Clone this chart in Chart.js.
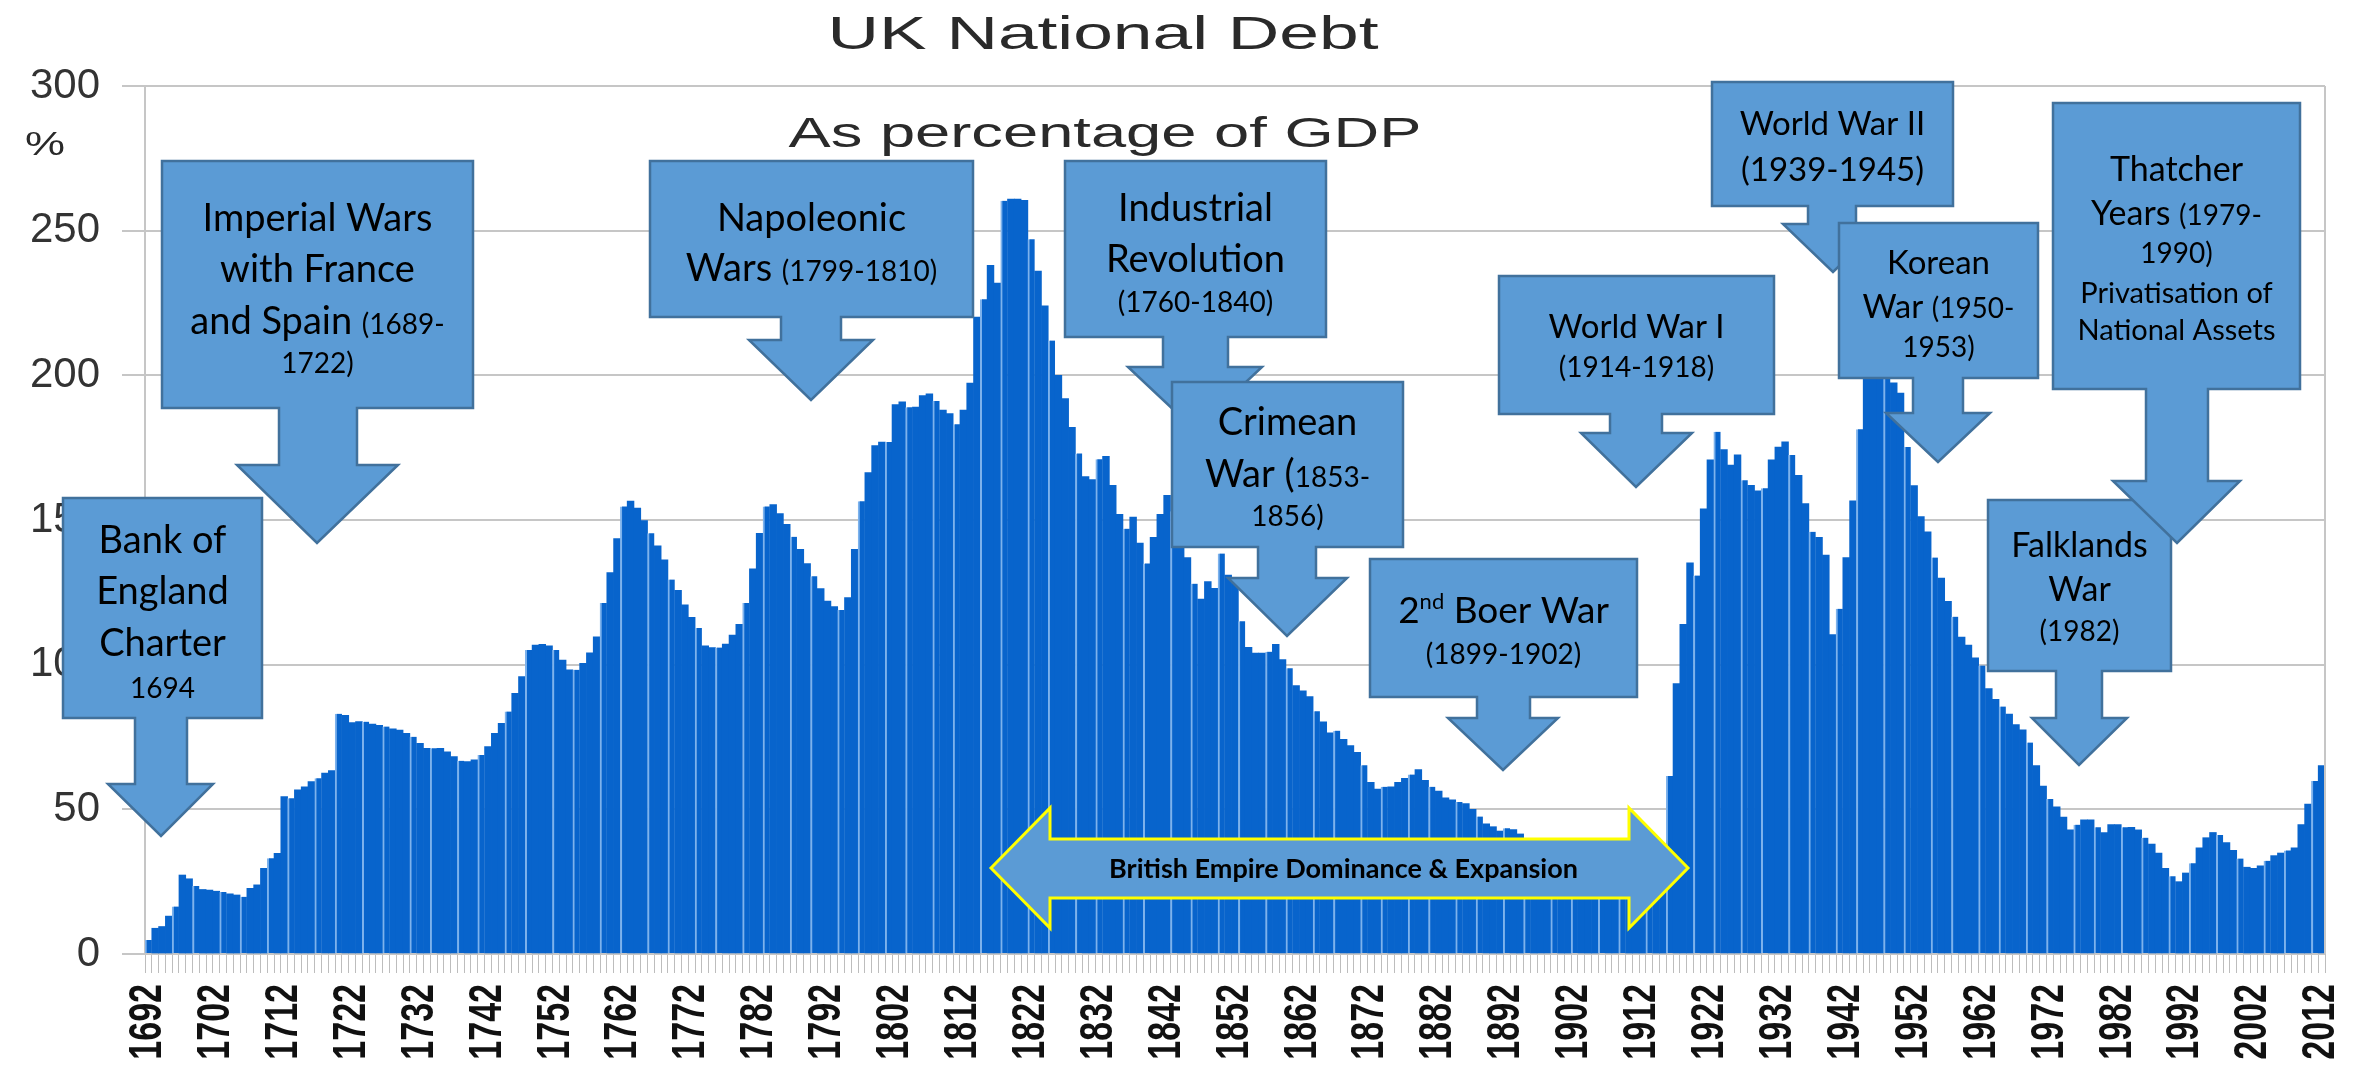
<!DOCTYPE html>
<html>
<head>
<meta charset="utf-8">
<title>UK National Debt</title>
<script src="https://cdn.jsdelivr.net/npm/chart.js@4.4.1/dist/chart.umd.min.js"></script>
<style>
  html, body { margin: 0; padding: 0; background: #fff; }
  #wrap { width: 2366px; height: 1069px; }
</style>
</head>
<body>
<div id="wrap"><canvas id="debtChart" width="2366" height="1069"></canvas></div>
<script>
// one bar per year
const firstYear = 1692;
const lastYear = 2012;
const years = [];
for (let y = firstYear; y <= lastYear; y++) years.push(String(y));

// years that get a label under the axis
const labelYears = [1692, 1702, 1712, 1722, 1732, 1742, 1752, 1762, 1772, 1782, 1792,
  1802, 1812, 1822, 1832, 1842, 1852, 1862, 1872, 1882, 1892, 1902, 1912, 1922,
  1932, 1942, 1952, 1962, 1972, 1982, 1992, 2002, 2012];

const yTicks = [0, 50, 100, 150, 200, 250, 300];

// debt as % of GDP (bars hidden behind the boxes are estimates)
const debt1692to1749 = [
  4.8, 8.9, 9.5, 13.1, 16.4, 27.3, 26, 23.5, 22.3, 22.1,
  21.7, 21.4, 20.8, 20.4, 19.8, 22.7, 23.9, 29.6, 33.1, 34.8,
  54.4, 53.8, 56.7, 57.8, 59.6, 60.7, 62.5, 63.4, 83, 82.5,
  80, 80.3, 80.3, 79.5, 79, 78.6, 77.8, 77.4, 76.3, 75.1,
  72.8, 71.1, 71.1, 71.1, 69.9, 68.2, 66.8, 66.5, 67.1, 68.8,
  71.7, 76.3, 79.7, 83.8, 90.1, 95.9, 105.1, 106.8];
const debt1750to1799 = [
  107, 106.5, 105.1, 101.6, 98.2, 98.2, 100.5, 104.1, 109.6, 121.3,
  131.8, 143.6, 154.7, 156.5, 154.1, 149.8, 145.4, 141.1, 136.2, 129.4,
  125.7, 120.7, 116.4, 112.7, 106.5, 105.9, 105.9, 107.1, 110.2, 113.9,
  121.3, 133.1, 145.4, 154.7, 155.3, 152.2, 148.5, 144.2, 139.9, 134.9,
  130.6, 126.3, 122, 120.1, 118.9, 123.2, 139.9, 156.5, 166.4, 175.7];
const debt1800to1849 = [
  176.9, 177, 189.9, 190.8, 189, 189, 193, 193.6, 191.1, 188,
  186.8, 183.1, 188, 197.3, 220.1, 226.3, 238, 231.9, 260.3, 260.9,
  260.9, 260.5, 247, 236, 224, 212, 200, 192, 182, 173,
  165, 164, 171, 172, 162, 152, 147, 151, 142, 135,
  144, 152, 158.5, 153, 145, 137, 128, 122.7, 128.7, 126.4];
const debt1850to1899 = [
  138.4, 131, 130, 115, 106, 104, 104, 104.5, 107, 101.8,
  98.8, 92.8, 91, 89, 83.9, 80.2, 76.4, 77.2, 74.2, 72,
  69.7, 65.2, 59.3, 57, 57.8, 57.8, 59.3, 60.7, 62, 63.7,
  60, 57.8, 56.3, 54, 53.3, 52.5, 52, 50, 47.5, 45,
  44, 42.5, 43.5, 43, 41.5, 39, 37.5, 36, 34.5, 33];
const debt1900to1949 = [
  31, 33, 36, 36, 35, 34, 33, 31, 30, 30,
  29, 28, 27, 26, 27, 35, 61.5, 93.5, 113.9, 135.2,
  130.8, 153.9, 170.8, 180.5, 174.3, 169, 172.5, 163.7, 162, 160.1,
  161, 170.8, 175.2, 177, 172.5, 165.4, 155.7, 145.9, 144, 137.9,
  110.4, 119.3, 137, 156.6, 181.4, 205, 235, 245, 215, 197.4];
const debt1950to2012 = [
  193.9, 175.2, 161.9, 151.2, 145.9, 137, 129.9, 121.9, 116.6, 109.5,
  106.8, 102.4, 99.7, 91.7, 88, 85.5, 82.9, 79.3, 77.5, 73.1,
  65.1, 58, 53.6, 50.9, 47.3, 42.9, 44.7, 46.4, 46.4, 43.8,
  42, 44.7, 44.7, 43.8, 43.8, 42.9, 40.2, 38, 34.9, 29.6,
  26.9, 25, 28, 31.4, 36.7, 40.2, 42, 41.1, 38.5, 35.8,
  33, 30, 29.6, 30.5, 32.2, 34, 34.9, 35.8, 36.7, 44.7,
  51.8, 59.8, 65.1];

const debtPct = [].concat(debt1692to1749, debt1750to1799, debt1800to1849,
  debt1850to1899, debt1900to1949, debt1950to2012);

// arrow callouts drawn over the bars (page pixels)
const callouts = [
  { box: [63, 498, 262, 718], shaft: [135, 187], headTop: 784, head: [108, 213], tip: [161, 836],
    lines: [[539, [['Bank of', 38]]], [590, [['England', 38]]], [642, [['Charter', 38]]], [688, [['1694', 28]]]] },
  { box: [162, 161, 473, 408], shaft: [279, 357], headTop: 465, head: [237, 398], tip: [317, 543],
    lines: [[217, [['Imperial Wars', 38]]], [268, [['with France', 38]]],
            [320, [['and Spain ', 38], ['(1689-', 28]]], [363, [['1722)', 28]]]] },
  { box: [650, 161, 973, 317], shaft: [781, 841], headTop: 340, head: [749, 873], tip: [811, 400],
    lines: [[217, [['Napoleonic', 38]]], [267, [['Wars ', 38], ['(1799-1810)', 28]]]] },
  { box: [1065, 161, 1326, 337], shaft: [1163, 1228], headTop: 367, head: [1128, 1262], tip: [1195, 430],
    lines: [[207, [['Industrial', 38]]], [258, [['Revolution', 38]]], [302, [['(1760-1840)', 28]]]] },
  { box: [1172, 382, 1403, 547], shaft: [1258, 1316], headTop: 578, head: [1228, 1347], tip: [1287, 636],
    lines: [[421, [['Crimean', 38]]], [473, [['War (', 38], ['1853-', 28]]], [516, [['1856)', 28]]]] },
  { box: [1370, 559, 1637, 697], shaft: [1477, 1530], headTop: 718, head: [1448, 1558], tip: [1503, 770],
    lines: [[610, [['2', 37], ['nd', 22, 14], [' Boer War', 37]]], [654, [['(1899-1902)', 28]]]] },
  { box: [1499, 276, 1774, 414], shaft: [1610, 1662], headTop: 433, head: [1581, 1692], tip: [1636, 487],
    lines: [[326, [['World War I', 33]]], [367, [['(1914-1918)', 28]]]] },
  { box: [1712, 82, 1953, 206], shaft: [1808, 1856], headTop: 224, head: [1783, 1883], tip: [1833, 272],
    lines: [[123, [['World War II', 33]]], [169, [['(1939-1945)', 33]]]] },
  { box: [1839, 223, 2038, 378], shaft: [1913, 1963], headTop: 413, head: [1886, 1990], tip: [1938, 462],
    lines: [[262, [['Korean', 33]]], [306, [['War ', 33], ['(1950-', 28]]], [347, [['1953)', 28]]]] },
  { box: [1988, 500, 2171, 671], shaft: [2056, 2102], headTop: 718, head: [2032, 2127], tip: [2079, 765],
    lines: [[545, [['Falklands', 34]]], [589, [['War', 34]]], [631, [['(1982)', 28]]]] },
  { box: [2053, 103, 2300, 389], shaft: [2146, 2208], headTop: 481, head: [2113, 2240], tip: [2177, 543],
    lines: [[169, [['Thatcher', 34]]], [213, [['Years ', 34], ['(1979-', 28]]], [253, [['1990)', 28]]],
            [293, [['Privatisation of', 29]]], [330, [['National Assets', 29]]]] }
];

const empireArrow = { left: 991, right: 1688, mid: 868, headTop: 808, headBottom: 928,
  shaftTop: 839, shaftBottom: 898, headDepth: 59, text: 'British Empire Dominance & Expansion' };

function stretchedText(ctx, text, cx, baseline, font, width) {
  ctx.save();
  ctx.font = font;
  const w = ctx.measureText(text).width;
  ctx.translate(cx, baseline);
  ctx.scale(width / w, 1);
  ctx.textAlign = 'center';
  ctx.textBaseline = 'alphabetic';
  ctx.fillText(text, 0, 0);
  ctx.restore();
}

function drawCallout(ctx, c) {
  const [l, t, r, b] = c.box;
  const [sl, sr] = c.shaft;
  const [hl, hr] = c.head;
  const [tx, ty] = c.tip;
  ctx.beginPath();
  ctx.moveTo(l, t); ctx.lineTo(r, t); ctx.lineTo(r, b);
  ctx.lineTo(sr, b); ctx.lineTo(sr, c.headTop); ctx.lineTo(hr, c.headTop);
  ctx.lineTo(tx, ty);
  ctx.lineTo(hl, c.headTop); ctx.lineTo(sl, c.headTop); ctx.lineTo(sl, b);
  ctx.lineTo(l, b); ctx.closePath();
  ctx.fillStyle = '#5b9bd5';
  ctx.fill();
  ctx.lineWidth = 2.5;
  ctx.strokeStyle = '#41719c';
  ctx.stroke();

  const cx = (l + r) / 2;
  ctx.fillStyle = '#000';
  ctx.textBaseline = 'alphabetic';
  ctx.textAlign = 'left';
  c.lines.forEach(([yc, segs]) => {
    const maxSize = Math.max(...segs.map(s => s[1]));
    const base = yc + maxSize * 0.36;
    let total = 0;
    segs.forEach(s => { ctx.font = s[1] + 'px Lato'; total += ctx.measureText(s[0]).width; });
    let x = cx - total / 2;
    segs.forEach(s => {
      ctx.font = s[1] + 'px Lato';
      ctx.fillText(s[0], x, base - (s[2] || 0));
      x += ctx.measureText(s[0]).width;
    });
  });
}

function drawEmpireArrow(ctx, a) {
  ctx.beginPath();
  ctx.moveTo(a.left, a.mid);
  ctx.lineTo(a.left + a.headDepth, a.headTop);
  ctx.lineTo(a.left + a.headDepth, a.shaftTop);
  ctx.lineTo(a.right - a.headDepth, a.shaftTop);
  ctx.lineTo(a.right - a.headDepth, a.headTop);
  ctx.lineTo(a.right, a.mid);
  ctx.lineTo(a.right - a.headDepth, a.headBottom);
  ctx.lineTo(a.right - a.headDepth, a.shaftBottom);
  ctx.lineTo(a.left + a.headDepth, a.shaftBottom);
  ctx.lineTo(a.left + a.headDepth, a.headBottom);
  ctx.closePath();
  ctx.fillStyle = '#5b9bd5';
  ctx.fill();
  ctx.lineWidth = 3;
  ctx.strokeStyle = '#ffff00';
  ctx.stroke();
  ctx.fillStyle = '#000';
  ctx.font = 'bold 27px Lato';
  ctx.textAlign = 'center';
  ctx.textBaseline = 'middle';
  ctx.fillText(a.text, (a.left + a.right) / 2 + 4, a.mid + 1);
}

// year labels: placed by the x scale, drawn thick like the stretched original
function drawYearLabels(chart) {
  const ctx = chart.ctx;
  const xs = chart.scales.x;
  const top = chart.chartArea.bottom + 30;
  ctx.save();
  ctx.fillStyle = '#111';
  ctx.font = 'bold 34px "Liberation Sans"';
  ctx.textAlign = 'right';
  ctx.textBaseline = 'middle';
  labelYears.forEach(yr => {
    const i = years.indexOf(String(yr));
    const x = xs.getPixelForTick(i);
    ctx.save();
    ctx.translate(x, top);
    ctx.rotate(-Math.PI / 2);
    ctx.scale(1, 1.35);
    ctx.fillText(String(yr), 0, 0);
    ctx.restore();
  });
  ctx.restore();
}

const overlayPlugin = {
  id: 'overlay',
  afterDraw(chart) {
    const ctx = chart.ctx;
    const area = chart.chartArea;
    ctx.save();
    // right frame line
    ctx.strokeStyle = '#c6c6c6';
    ctx.lineWidth = 2;
    ctx.beginPath();
    ctx.moveTo(area.right, area.top);
    ctx.lineTo(area.right, area.bottom);
    ctx.stroke();

    drawYearLabels(chart);

    // title, subtitle and unit (the original chart is stretched sideways)
    ctx.fillStyle = '#2a2a2a';
    stretchedText(ctx, 'UK National Debt', 1103, 49, '47px "Liberation Sans"', 551);
    stretchedText(ctx, 'As percentage of GDP', 1105, 147, '42px "Liberation Sans"', 633);
    stretchedText(ctx, '%', 45, 155, '34px "Liberation Sans"', 40);

    callouts.slice(0, 6).forEach(c => drawCallout(ctx, c));
    drawEmpireArrow(ctx, empireArrow);
    callouts.slice(6).forEach(c => drawCallout(ctx, c));
    ctx.restore();
  }
};

new Chart(document.getElementById('debtChart'), {
  type: 'bar',
  data: {
    labels: years,
    datasets: [{
      label: 'UK national debt, % of GDP',
      data: debtPct,
      backgroundColor: '#0864cc',
      borderColor: '#7db2ec',
      borderWidth: (c) => (c.dataIndex % 7 === 0 || c.dataIndex % 7 === 4) ? { left: 2, right: 0, top: 0, bottom: 0 } : 0,
      borderSkipped: false,
      barPercentage: 1,
      categoryPercentage: 1
    }]
  },
  options: {
    responsive: false,
    animation: false,
    devicePixelRatio: 1,
    layout: { padding: { top: 86, right: 41, bottom: 0, left: 0 } },
    plugins: {
      legend: { display: false },
      title: { display: false },
      tooltip: { enabled: false }
    },
    scales: {
      x: {
        afterFit: (scale) => { scale.height = 115; },
        grid: { drawOnChartArea: false, drawTicks: true, tickLength: 19, color: '#bdbdbd', lineWidth: 1 },
        border: { display: false },
        ticks: { display: false, autoSkip: false }
      },
      y: {
        min: 0,
        max: 300,
        afterFit: (scale) => { scale.width = 145; },
        afterBuildTicks: (scale) => { scale.ticks = yTicks.map(v => ({ value: v })); },
        grid: { color: '#c6c6c6', lineWidth: 2, tickLength: 23 },
        border: { display: true, color: '#c6c6c6', width: 2 },
        ticks: {
          padding: 22,
          color: '#333',
          font: { family: 'Liberation Sans', size: 42 }
        }
      }
    }
  },
  plugins: [overlayPlugin]
});
</script>
</body>
</html>
